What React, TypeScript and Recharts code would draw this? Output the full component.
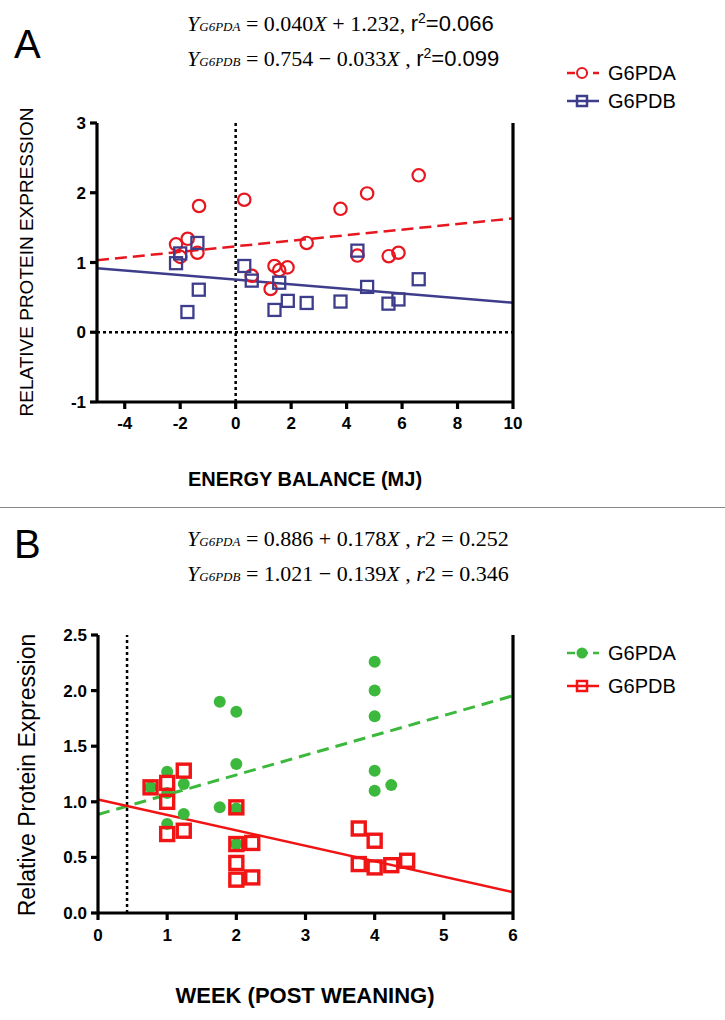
import React from 'react';
import { ScatterChart, Scatter, XAxis, YAxis, ReferenceLine } from 'recharts';

const SANS = '"Liberation Sans", Arial, sans-serif';
const SERIF = '"Liberation Serif", "Times New Roman", serif';

// Panel A: relative protein expression vs energy balance (MJ)
const energyG6pda = [-2.15, -2.0, -1.73, -1.32, -1.38, 0.31, 0.58, 1.4, 1.57, 1.87, 1.26, 2.56, 3.78, 4.39, 4.74, 5.52, 5.87, 6.6];
const exprG6pdaA = [1.26, 1.08, 1.34, 1.81, 1.14, 1.9, 0.81, 0.95, 0.89, 0.93, 0.62, 1.28, 1.77, 1.1, 1.99, 1.09, 1.14, 2.25];
const energyG6pdb = [-2.15, -2.0, -1.38, -1.33, -1.74, 0.31, 0.58, 1.57, 1.4, 1.88, 2.56, 3.78, 4.39, 4.74, 5.51, 5.87, 6.6];
const exprG6pdbA = [0.99, 1.13, 1.28, 0.61, 0.29, 0.95, 0.74, 0.71, 0.32, 0.45, 0.42, 0.44, 1.17, 0.65, 0.41, 0.47, 0.76];
const energyTicks = [-4, -2, 0, 2, 4, 6, 8, 10];
const exprTicksA = [-1, 0, 1, 2, 3];
// regression end points (from the printed equations)
const fitEnergy = [-5, 10];
const fitG6pdaA = [1.032, 1.632];
const fitG6pdbA = [0.919, 0.424];

// Panel B: relative protein expression vs week post weaning
const weekG6pda = [0.76, 1, 1, 1, 1.24, 1.24, 1.76, 1.76, 2, 2, 2, 2, 4, 4, 4, 4, 4, 4.24];
const exprG6pdaB = [1.13, 1.27, 1.08, 0.8, 1.16, 0.89, 1.9, 0.95, 1.81, 1.34, 0.94, 0.62, 2.26, 2.0, 1.77, 1.28, 1.1, 1.15];
const weekG6pdb = [0.76, 1, 1.24, 1, 1, 1.24, 2, 2, 2.23, 2, 2, 2.23, 3.77, 4, 3.77, 4, 4.24, 4.47];
const exprG6pdbB = [1.13, 1.17, 1.28, 1.0, 0.71, 0.74, 0.95, 0.62, 0.63, 0.45, 0.3, 0.32, 0.76, 0.65, 0.44, 0.41, 0.43, 0.47];
const weekTicks = [0, 1, 2, 3, 4, 5, 6];
const exprTicksB = [0, 0.5, 1, 1.5, 2, 2.5];
const fitWeek = [0, 6];
const fitG6pdaB = [0.886, 1.954];
const fitG6pdbB = [1.021, 0.187];
const weaningWeek = 0.42;

const RED_A = '#e8161e';
const BLUE_A = '#3d3d8c';
const GREEN_B = '#3cb93c';
const RED_B = '#f01414';

const zip = (xs: number[], ys: number[]) => xs.map((x, i) => ({ x, y: ys[i] }));

const openCircle = (color: string) => (p: any) => (
  <circle cx={p.cx} cy={p.cy} r={6.2} fill="none" stroke={color} strokeWidth={2.2} />
);
const openSquare = (color: string, w: number, half: number) => (p: any) => (
  <rect x={p.cx - half} y={p.cy - half} width={half * 2} height={half * 2} fill="none" stroke={color} strokeWidth={w} />
);
const dot = (color: string) => (p: any) => <circle cx={p.cx} cy={p.cy} r={6} fill={color} />;

const axisLine = { stroke: '#000', strokeWidth: 3.2 };
const tickStyle = { fill: '#000', fontSize: 17, fontWeight: 'bold' as const, fontFamily: SANS };

function LegendRow({ color, dashed, marker, label, top }: any) {
  return (
    <div style={{ position: 'absolute', left: 566, top, height: 24, display: 'flex', alignItems: 'center' }}>
      <svg width={34} height={20}>
        <line x1={1} y1={10} x2={33} y2={10} stroke={color} strokeWidth={2.5} strokeDasharray={dashed ? '8 5' : undefined} />
        {marker === 'circle' && <circle cx={16} cy={10} r={5} fill="#fff" stroke={color} strokeWidth={2} />}
        {marker === 'dot' && <circle cx={16} cy={10} r={5.5} fill={color} />}
        {marker === 'square' && <rect x={11} y={5} width={10} height={10} fill="none" stroke={color} strokeWidth={2.5} />}
      </svg>
      <span style={{ marginLeft: 8, fontFamily: SANS, fontSize: 20, color: '#000' }}>{label}</span>
    </div>
  );
}

const eqStyle: React.CSSProperties = { position: 'absolute', left: 187, fontFamily: SERIF, fontSize: 22, color: '#000', whiteSpace: 'nowrap' };
const subStyle: React.CSSProperties = { fontStyle: 'italic', fontSize: 13 };

export default function App() {
  return (
    <div style={{ position: 'absolute', left: 0, top: 0, width: 725, height: 1020, background: '#fff', overflow: 'hidden' }}>
      {/* Panel A */}
      <div style={{ position: 'absolute', left: 0, top: 0 }}>
        <ScatterChart width={725} height={500} margin={{ top: 123, right: 172, bottom: 68, left: 57 }}>
          <XAxis type="number" dataKey="x" domain={[-5, 10]} ticks={energyTicks} height={30}
            axisLine={axisLine} tickLine={axisLine} tickSize={7} tickMargin={8} tick={tickStyle} />
          <YAxis yAxisId="l" type="number" dataKey="y" domain={[-1, 3]} ticks={exprTicksA} width={40}
            axisLine={axisLine} tickLine={axisLine} tickSize={7} tickMargin={4} tick={tickStyle} />
          <YAxis yAxisId="r" orientation="right" type="number" domain={[-1, 3]} ticks={exprTicksA} width={40}
            axisLine={axisLine} tickLine={axisLine} tickSize={7} tickMargin={4} tick={tickStyle} />
          <ReferenceLine yAxisId="l" x={0} stroke="#000" strokeWidth={2.5} strokeDasharray="3 3" />
          <ReferenceLine yAxisId="l" y={0} stroke="#000" strokeWidth={2.5} strokeDasharray="3 3" />
          <ReferenceLine yAxisId="l" segment={zip(fitEnergy, fitG6pdaA)} stroke={RED_A} strokeWidth={2.5} strokeDasharray="12 6" />
          <ReferenceLine yAxisId="l" segment={zip(fitEnergy, fitG6pdbA)} stroke={BLUE_A} strokeWidth={2.5} />
          <Scatter yAxisId="l" data={zip(energyG6pda, exprG6pdaA)} shape={openCircle(RED_A)} isAnimationActive={false} />
          <Scatter yAxisId="l" data={zip(energyG6pdb, exprG6pdbA)} shape={openSquare(BLUE_A, 2.3, 6)} isAnimationActive={false} />
        </ScatterChart>
      </div>
      <div style={{ position: 'absolute', left: 14, top: 22, fontFamily: SANS, fontSize: 40, color: '#000' }}>A</div>
      <div style={{ ...eqStyle, top: 10 }}>
        <i>Y</i><span style={subStyle}>G6PDA</span> = 0.040<i>X</i> + 1.232, <span style={{ fontFamily: SANS }}>r<sup style={{ fontSize: 14 }}>2</sup>=0.066</span>
      </div>
      <div style={{ ...eqStyle, top: 45 }}>
        <i>Y</i><span style={subStyle}>G6PDB</span> = 0.754 &minus; 0.033<i>X</i> , <span style={{ fontFamily: SANS }}>r<sup style={{ fontSize: 14 }}>2</sup>=0.099</span>
      </div>
      <LegendRow color={RED_A} dashed marker="circle" label="G6PDA" top={61} />
      <LegendRow color={BLUE_A} marker="square" label="G6PDB" top={89} />
      <div style={{ position: 'absolute', left: 27 - 200, top: 262 - 11, width: 400, lineHeight: '22px', textAlign: 'center', transform: 'rotate(-90deg)', fontFamily: SANS, fontSize: 19, color: '#000' }}>
        RELATIVE PROTEIN EXPRESSION
      </div>
      <div style={{ position: 'absolute', left: 105, top: 468, width: 400, textAlign: 'center', fontFamily: SANS, fontSize: 20, fontWeight: 'bold', color: '#000' }}>
        ENERGY BALANCE (MJ)
      </div>

      <div style={{ position: 'absolute', left: 0, top: 507, width: 725, height: 0, borderTop: '1.5px solid #888' }} />

      {/* Panel B */}
      <div style={{ position: 'absolute', left: 0, top: 510 }}>
        <ScatterChart width={725} height={510} margin={{ top: 125, right: 172, bottom: 77, left: 58 }}>
          <XAxis type="number" dataKey="x" domain={[0, 6]} ticks={weekTicks} height={30}
            axisLine={axisLine} tickLine={axisLine} tickSize={7} tickMargin={9} tick={tickStyle} />
          <YAxis yAxisId="l" type="number" dataKey="y" domain={[0, 2.5]} ticks={exprTicksB} width={40}
            tickFormatter={(v: number) => v.toFixed(1)}
            axisLine={axisLine} tickLine={axisLine} tickSize={7} tickMargin={4} tick={tickStyle} />
          <YAxis yAxisId="r" orientation="right" type="number" domain={[0, 2.5]} ticks={exprTicksB} width={40}
            tickFormatter={(v: number) => v.toFixed(1)}
            axisLine={axisLine} tickLine={axisLine} tickSize={7} tickMargin={4} tick={tickStyle} />
          <ReferenceLine yAxisId="l" x={weaningWeek} stroke="#000" strokeWidth={2.5} strokeDasharray="3 3" />
          <ReferenceLine yAxisId="l" segment={zip(fitWeek, fitG6pdaB)} stroke={GREEN_B} strokeWidth={3} strokeDasharray="12 7" />
          <ReferenceLine yAxisId="l" segment={zip(fitWeek, fitG6pdbB)} stroke={RED_B} strokeWidth={2.5} />
          <Scatter yAxisId="l" data={zip(weekG6pda, exprG6pdaB)} shape={dot(GREEN_B)} isAnimationActive={false} />
          <Scatter yAxisId="l" data={zip(weekG6pdb, exprG6pdbB)} shape={openSquare(RED_B, 3.4, 6.5)} isAnimationActive={false} />
        </ScatterChart>
      </div>
      <div style={{ position: 'absolute', left: 14, top: 522, fontFamily: SANS, fontSize: 40, color: '#000' }}>B</div>
      <div style={{ ...eqStyle, top: 526 }}>
        <i>Y</i><span style={subStyle}>G6PDA</span> = 0.886 + 0.178<i>X</i> , <i>r</i>2 = 0.252
      </div>
      <div style={{ ...eqStyle, top: 561 }}>
        <i>Y</i><span style={subStyle}>G6PDB</span> = 1.021 &minus; 0.139<i>X</i> , <i>r</i>2 = 0.346
      </div>
      <LegendRow color={GREEN_B} dashed marker="dot" label="G6PDA" top={641} />
      <LegendRow color={RED_B} marker="square" label="G6PDB" top={674} />
      <div style={{ position: 'absolute', left: 27 - 200, top: 775 - 13, width: 400, lineHeight: '26px', textAlign: 'center', transform: 'rotate(-90deg)', fontFamily: SANS, fontSize: 23, color: '#000' }}>
        Relative Protein Expression
      </div>
      <div style={{ position: 'absolute', left: 105, top: 983, width: 400, textAlign: 'center', fontFamily: SANS, fontSize: 22, fontWeight: 'bold', color: '#000' }}>
        WEEK (POST WEANING)
      </div>
    </div>
  );
}
